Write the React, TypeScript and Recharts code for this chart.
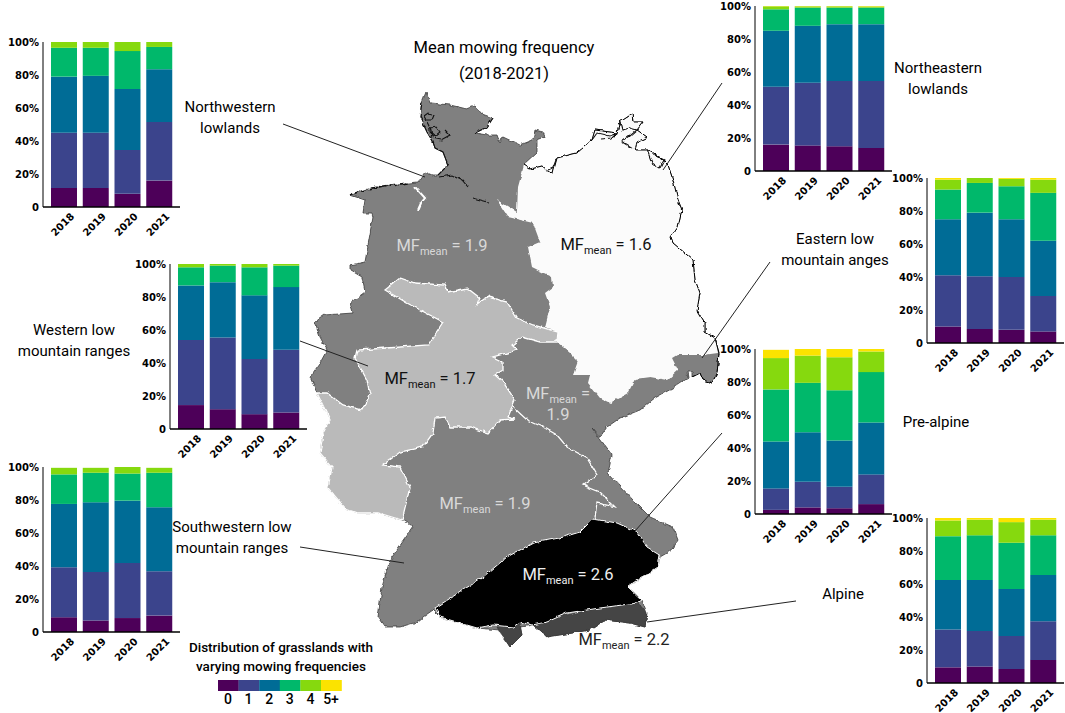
/**
 * Mean mowing frequency map of Germany with stacked bars per region.
 */

import React from 'react';
import { BarChart, Bar, XAxis, YAxis } from 'recharts';

const YEARS = ['2018', '2019', '2020', '2021'];
const CLASSES = ['0', '1', '2', '3', '4', '5+'];
const COLORS = ['#4d0059', '#3b448c', '#006c96', '#00b86b', '#86d90e', '#fbe300'];
const Y_TICKS = [0, 20, 40, 60, 80, 100];

// share of grasslands per mowing class (rows) and year (columns)
const NORTHWEST = [
  [11.5, 11.5, 8, 16],
  [33.5, 33.5, 26.5, 35.5],
  [34, 34.5, 37, 32],
  [17.5, 17, 23, 13.5],
  [3.5, 3.5, 5.5, 3],
  [0, 0, 0, 0],
];
const NORTHEAST = [
  [16, 15.5, 15, 14],
  [35, 38, 39.5, 40.5],
  [34, 34.5, 34.5, 34.5],
  [13, 11, 10, 10],
  [1.8, 0.8, 0.8, 0.7],
  [0.2, 0.2, 0.2, 0.3],
];
const EASTERN = [
  [10, 8.5, 8, 7],
  [31, 32, 32, 21.5],
  [34, 38.5, 35, 33.5],
  [18, 18, 20, 29],
  [6, 3, 4.5, 8],
  [1, 0, 0.5, 1],
];
const WESTERN = [
  [14.5, 12, 9, 10],
  [39.5, 43.5, 33.5, 38],
  [33, 33.5, 38.5, 38],
  [11, 10, 17, 13],
  [2, 1, 2, 1],
  [0, 0, 0, 0],
];
const SOUTHWEST = [
  [9, 7, 8.5, 10],
  [30.5, 29.5, 33.5, 27],
  [38.5, 42.5, 38, 39],
  [18, 18, 16.5, 21],
  [4, 3, 4, 3],
  [0, 0, 0, 0],
];
const PREALPINE = [
  [2.5, 4, 3.5, 6],
  [13, 15.5, 13, 18],
  [28.5, 30, 28, 31.5],
  [31.5, 30, 30.5, 30.5],
  [19, 16.5, 20, 12.5],
  [5, 4, 5, 1.5],
];
const ALPINE = [
  [9.5, 10, 8.5, 14],
  [23, 21.5, 20, 23.5],
  [30, 31, 28.5, 28],
  [26.5, 27, 28, 24],
  [9.5, 9.5, 12.5, 9.5],
  [1.5, 1, 2.5, 1],
];

// traced region outlines of the base map (page pixels)
const GERMANY =
  '350,195 358,192 372,188 390,185 408,183 418,182 425,172 432,175 438,175 448,165 443,152 435,148 433,142 427,132 420,117 422,102 426,92 430,103 450,105 467,109 475,106 482,114 493,118 487,127 475,133 487,135 497,135 500,143 503,137 520,145 533,140 535,130 543,132 545,137 537,140 537,153 524,165 530,169 542,166 550,172 553,173 557,158 577,153 592,140 595,130 617,133 620,122 632,114 633,122 643,122 637,130 647,137 637,142 635,150 647,150 660,157 668,165 673,180 678,200 682,210 678,227 671,237 673,243 693,260 695,280 700,293 697,310 705,323 705,332 715,338 719,353 717,373 712,383 703,380 700,373 692,377 692,372 687,372 688,378 673,388 655,398 640,410 620,418 607,427 600,437 592,428 612,455 608,473 633,500 650,517 673,527 678,540 672,550 660,557 658,567 628,587 642,600 647,613 645,627 630,623 605,620 590,630 547,637 533,625 520,627 522,635 510,647 500,630 477,628 440,617 433,610 423,617 417,622 400,627 385,627 378,617 382,587 390,560 413,527 402,520 378,513 358,513 345,508 328,488 332,467 320,453 323,433 330,420 317,393 310,377 320,363 327,350 320,337 315,322 325,315 353,313 350,303 365,292 362,277 350,270 350,265 365,262 373,217 372,213 363,213 365,200';
const NORTHEAST_AREA =
  '524,165 530,169 542,166 550,172 553,173 557,158 577,153 592,140 595,130 617,133 620,122 632,114 633,122 643,122 637,130 647,137 637,142 635,150 647,150 660,157 668,165 673,180 678,200 682,210 678,227 671,237 673,243 693,260 695,280 700,293 697,310 705,323 705,332 715,338 718,353 703,355 677,355 672,358 678,370 667,380 650,377 635,379 628,393 610,403 600,398 588,383 590,375 573,375 578,361 570,353 557,342 558,332 545,327 550,307 545,293 553,287 552,277 532,267 528,247 540,242 533,223 508,217 497,200 517,212 518,187';
const WESTERN_AREA =
  '385,290 400,278 415,283 445,285 448,292 467,288 480,298 477,305 488,297 507,302 517,318 533,325 558,332 557,342 540,342 522,337 512,345 517,350 493,357 503,362 503,370 495,375 503,382 515,400 508,417 515,419 500,420 488,433 470,427 450,427 445,417 435,418 433,433 423,447 400,452 383,465 400,467 410,487 402,520 378,513 358,513 345,508 328,488 332,467 320,453 323,433 330,420 317,393 327,393 343,405 362,410 370,395 367,380 355,358 357,350 387,348 428,345 443,322 407,303';
const PREALPINE_AREA =
  '435,608 463,590 483,577 507,557 533,543 560,538 580,532 593,519 617,523 637,532 647,547 660,555 658,567 628,587 642,600 637,603 600,608 567,613 547,622 532,625 520,622 513,627 493,625 477,628 440,617';
const ALPINE_WEST = '497,627 520,623 522,635 510,647 500,633';
const ALPINE_EAST =
  '533,625 567,615 600,608 638,603 647,613 645,627 630,623 605,620 590,630 547,637';
const EAST_DIVIDE =
  '513,407 527,420 543,427 557,435 567,447 587,458 597,475 583,485 600,492 615,507 597,503 595,518';
const BALTIC_COAST =
  '524,165 530,169 542,166 550,172 553,173 557,158 577,153 592,140 595,130 617,133 620,122 632,114 633,122 643,122 637,130 647,137 637,142 635,150 647,150 660,157 668,165 673,180 678,200 682,210 678,227 671,237 673,243 693,260 695,280 700,293 697,310 705,323 705,332 715,338 719,353 717,373 712,383 703,380 700,373 692,377';
const FRISIAN_COAST = '350,195 358,192 372,188 390,185 408,183';
const COAST_LINES = [
  '422,102 420,117 427,132 433,142 435,148 443,152 448,165 438,175',
  '475,133 487,127 493,118',
  '440,177 452,175 462,180 468,187',
  '473,198 488,202',
  '424,116 428,113 434,115 432,120 426,120 424,116',
  '430,128 436,127 440,132 435,136 430,132 430,128',
  '427,122 431,130 432,138 441,140 450,135 445,130',
  '592,140 597,133 610,136 617,133 612,138 600,139',
  '620,122 622,130 630,128 637,130 630,136 622,142 632,148',
  '647,150 652,163 660,168 664,160 655,155',
  '547,171 553,168 556,160',
];
const JADE_BAY = '415,187 425,198 421,203 418,210';

type Panel = { shares: number[][]; axisX: number; top: number };

const PANELS: Panel[] = [
  { shares: NORTHWEST, axisX: 43, top: 42 },
  { shares: NORTHEAST, axisX: 755, top: 6 },
  { shares: EASTERN, axisX: 927, top: 178 },
  { shares: WESTERN, axisX: 170, top: 264 },
  { shares: SOUTHWEST, axisX: 43, top: 467 },
  { shares: PREALPINE, axisX: 755, top: 349 },
  { shares: ALPINE, axisX: 927, top: 518 },
];

const LEADERS = [
  [283, 124, 425, 177],
  [722, 83, 663, 170],
  [770, 262, 702, 358],
  [300, 341, 368, 366],
  [300, 547, 404, 563],
  [722, 433, 635, 531],
  [796, 601, 647, 622],
];

const LABELS: { lines: string[]; x: number; y: number }[] = [
  { lines: ['Northwestern', 'lowlands'], x: 230, y: 112 },
  { lines: ['Northeastern', 'lowlands'], x: 938, y: 73 },
  { lines: ['Eastern low', 'mountain anges'], x: 835, y: 244 },
  { lines: ['Western low', 'mountain ranges'], x: 74, y: 335 },
  { lines: ['Southwestern low', 'mountain ranges'], x: 232, y: 532 },
  { lines: ['Pre-alpine'], x: 936, y: 427 },
  { lines: ['Alpine'], x: 843, y: 599 },
];

const MF_LABELS = [
  { value: '= 1.9', x: 442, y: 251, fill: '#d9d9d9' },
  { value: '= 1.6', x: 606, y: 250, fill: '#111' },
  { value: '= 1.7', x: 430, y: 384, fill: '#111' },
  { value: '=', x: 558, y: 399, fill: '#d9d9d9' },
  { value: '= 1.9', x: 485, y: 509, fill: '#d9d9d9' },
  { value: '= 2.6', x: 568, y: 580, fill: '#eee' },
  { value: '= 2.2', x: 624, y: 645, fill: '#222' },
];

const FONT = 'Roboto, sans-serif';
const TICK_FONT = 'DejaVu Sans, sans-serif';

const buildRows = (shares: number[][]) =>
  YEARS.map((year, y) => {
    const row: Record<string, string | number> = { year };
    CLASSES.forEach((c, k) => {
      row[c] = shares[k][y];
    });
    return row;
  });

const YearTick = ({ x, y, payload }: any) => (
  <text
    x={x + 11}
    y={y + 2}
    transform={`rotate(-45 ${x + 11} ${y + 2})`}
    textAnchor="end"
    fontFamily={TICK_FONT}
    fontWeight="bold"
    fontSize={10}
    fill="#000"
  >
    {payload.value}
  </text>
);

const StackPanel: React.FC<Panel> = ({ shares, axisX, top }) => (
  <div style={{ position: 'absolute', left: axisX - 42, top: top - 6 }}>
    <BarChart
      width={179}
      height={207}
      data={buildRows(shares)}
      margin={{ top: 6, right: 0, bottom: 0, left: 0 }}
      barSize={26}
    >
      <XAxis
        dataKey="year"
        height={36}
        padding={{ left: 5, right: 5 }}
        tickLine={false}
        axisLine={{ stroke: '#000', strokeWidth: 1.3 }}
        interval={0}
        tick={<YearTick />}
      />
      <YAxis
        width={42}
        domain={[0, 100]}
        ticks={Y_TICKS}
        tickLine={false}
        tickSize={0}
        tickMargin={4}
        axisLine={{ stroke: '#000', strokeWidth: 1 }}
        tickFormatter={(v: number) => (v === 0 ? '0' : `${v}%`)}
        tick={{ fontFamily: TICK_FONT, fontWeight: 'bold', fontSize: 10, fill: '#000' }}
      />
      {CLASSES.map((c, k) => (
        <Bar key={c} dataKey={c} stackId="share" fill={COLORS[k]} isAnimationActive={false} />
      ))}
    </BarChart>
  </div>
);

const App = () => (
  <div
    style={{
      position: 'absolute',
      left: 0,
      top: 0,
      width: 1065,
      height: 713,
      background: '#fff',
      overflow: 'hidden',
    }}
  >
    {/* Base map, labels and legend */}
    <svg width={1065} height={713} style={{ position: 'absolute', left: 0, top: 0 }}>
      <defs>
        <filter id="rough" x="-5%" y="-5%" width="110%" height="110%" colorInterpolationFilters="sRGB">
          <feTurbulence type="fractalNoise" baseFrequency="0.16" numOctaves={2} seed={3} result="noise" />
          <feDisplacementMap in="SourceGraphic" in2="noise" scale={4} xChannelSelector="R" yChannelSelector="G" />
        </filter>
      </defs>
      <g filter="url(#rough)">
        <polygon points={GERMANY} fill="#808080" stroke="#3a3a3a" strokeWidth={0.8} />
        <polygon points={NORTHEAST_AREA} fill="#fbfbfb" stroke="none" />
        <polygon points={WESTERN_AREA} fill="#bababa" stroke="#fff" strokeWidth={1.3} />
        <polyline points={EAST_DIVIDE} fill="none" stroke="#fff" strokeWidth={1.3} />
        <polygon points={ALPINE_WEST} fill="#454545" stroke="#333" strokeWidth={0.6} />
        <polygon points={ALPINE_EAST} fill="#454545" stroke="#333" strokeWidth={0.6} />
        <polygon points={PREALPINE_AREA} fill="#000" stroke="#fff" strokeWidth={1} />
        <polyline points={BALTIC_COAST} fill="none" stroke="#000" strokeWidth={1} />
        {COAST_LINES.map((line, i) => (
          <polyline key={i} points={line} fill="none" stroke="#111" strokeWidth={1.1} />
        ))}
        <polyline points={JADE_BAY} fill="none" stroke="#fff" strokeWidth={2} />
        <polyline
          points={FRISIAN_COAST}
          fill="none"
          stroke="#111"
          strokeWidth={1.6}
          strokeDasharray="8 2"
        />
      </g>

      {LEADERS.map(([x1, y1, x2, y2], i) => (
        <line key={i} x1={x1} y1={y1} x2={x2} y2={y2} stroke="#222" strokeWidth={1} />
      ))}

      <g fontFamily={FONT} textAnchor="middle" fill="#000">
        <text x={504} y={53} fontSize={16.5}>
          Mean mowing frequency
        </text>
        <text x={504} y={79} fontSize={16.5}>
          (2018-2021)
        </text>
        {LABELS.map((label) =>
          label.lines.map((line, i) => (
            <text key={line} x={label.x} y={label.y + i * 21} fontSize={15}>
              {line}
            </text>
          )),
        )}
      </g>

      <g fontFamily={FONT} textAnchor="middle">
        {MF_LABELS.map((m, i) => (
          <text key={i} x={m.x} y={m.y} fontSize={16.5} fill={m.fill}>
            MF
            <tspan fontSize={11} dy={4}>
              mean
            </tspan>
            <tspan dy={-4}> {m.value}</tspan>
          </text>
        ))}
        <text x={558} y={420} fontSize={16.5} fill="#d9d9d9">
          1.9
        </text>
      </g>

      <g fontFamily={FONT} textAnchor="middle" fill="#000">
        <text x={281} y={652} fontSize={13.5} fontWeight={500}>
          Distribution of grasslands with
        </text>
        <text x={281} y={671} fontSize={13.5} fontWeight={500}>
          varying mowing frequencies
        </text>
        {CLASSES.map((c, k) => (
          <g key={c}>
            <rect x={218 + k * 20.6} y={680} width={20.8} height={11} fill={COLORS[k]} />
            <text x={228 + k * 20.6} y={704} fontSize={14} fontWeight={500}>
              {c}
            </text>
          </g>
        ))}
      </g>
    </svg>

    {PANELS.map((p) => (
      <StackPanel key={`${p.axisX}-${p.top}`} {...p} />
    ))}
  </div>
);

export default App;
